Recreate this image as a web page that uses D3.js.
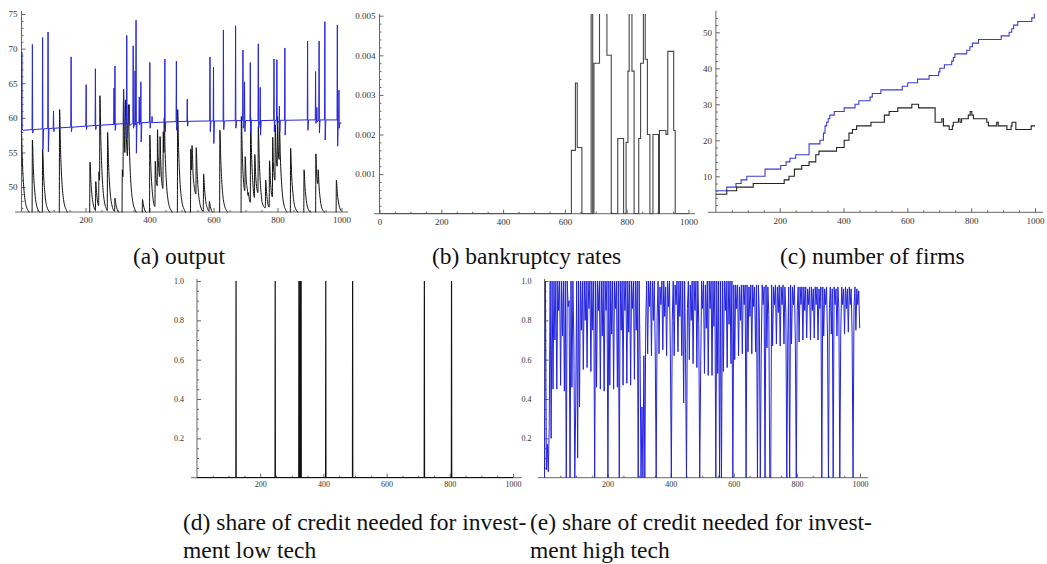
<!DOCTYPE html>
<html><head><meta charset="utf-8">
<script src="https://cdn.jsdelivr.net/npm/d3@7"></script>
<style>body{margin:0;background:#fff}</style>
</head><body>
<svg id="c" width="1047" height="564"></svg>
<script>
// ---------- DATA ----------
const xTicks = [200, 400, 600, 800, 1000];
const xTicksB = [0, 200, 400, 600, 800, 1000];
const yTicksA = [50, 55, 60, 65, 70, 75];
const yTicksB = [0.001, 0.002, 0.003, 0.004, 0.005];
const yTicksC = [10, 20, 30, 40, 50];
const yTicksDE = [0.2, 0.4, 0.6, 0.8, 1.0];

// (a) output, high tech (blue)
const outputHigh = [[0,53],[1,69.5],[2,58.4],[5,58.2],[33,58.3],[34,70.6],[35,57.8],[37,58.3],[65,58.4],[66,71.6],[67,55.5],[69,58.4],[82,58.45],[83,72.4],[84,55.1],[86,58.45],[99,58.5],[100,61],[101,58],[103,58.5],[154,58.65],[155,68.8],[156,58],[158,58.65],[201,58.8],[202,64.8],[203,58.3],[205,58.8],[230,58.9],[231,67.1],[232,58.3],[234,58.9],[288,59.05],[289,64.3],[290,59],[291,59.05],[292,67.5],[293,58.2],[295,59.1],[318,59.15],[319,64.1],[320,59.1],[328,59.2],[329,71.9],[330,57.2],[332,59.2],[336,59.2],[337,61.9],[338,58.9],[348,59.25],[349,70.4],[350,58.5],[354,59.25],[355,66.8],[356,59],[357,59.3],[358,74.1],[359,54.9],[361,59.3],[367,59.3],[368,63],[369,59],[372,59.3],[373,65.2],[374,56.5],[376,59.3],[400,59.35],[401,68],[402,58.5],[404,59.35],[407,59.35],[408,60.2],[409,59.3],[447,59.4],[448,68.5],[449,58],[451,59.4],[483,59.45],[484,68.2],[485,58.2],[487,59.45],[517,59.5],[518,62.7],[519,58.8],[521,59.5],[588,59.55],[589,68.8],[590,58],[592,59.55],[599,59.55],[600,67.3],[601,56.3],[603,59.55],[630,59.55],[631,72.7],[632,58.3],[634,59.55],[668,59.6],[669,73.3],[670,58.5],[672,59.6],[691,59.6],[692,69.8],[693,58.5],[696,59.6],[697,65.2],[698,58],[700,59.6],[714,59.6],[715,68],[716,57.8],[718,59.6],[739,59.6],[740,70.7],[741,58.5],[745,59.6],[746,64.4],[747,57.5],[749,59.6],[788,59.65],[789,68.5],[790,58],[792,59.6],[797,59.65],[798,68.4],[799,59],[805,59.65],[806,61.7],[807,58],[809,59.65],[822,59.65],[823,70.1],[824,57.5],[826,59.65],[893,59.7],[894,71.1],[895,58.2],[897,59.7],[918,59.7],[919,66.7],[920,59.2],[922,59.7],[923,61.5],[924,59.4],[929,59.7],[930,71.1],[931,57.8],[933,59.7],[947,59.7],[948,73.9],[949,56.8],[951,59.7],[986,59.7],[987,73.4],[988,55.9],[990,59.6],[991,59.6],[992,64],[993,58.5],[995,59.3],[1000,59.2]];

// (a) output, low tech (black)
const outputLow = [[0,58],[3,53.4],[7,50],[13,47.6],[22,46.5],[32,46],[33,46],[34,56.8],[37,52.7],[41,49.6],[47,47.4],[56,46.4],[65,46.1],[66,55.5],[69,51.9],[73,49.1],[79,47.2],[88,46.4],[98,46],[118,46],[119,61.2],[122,55.4],[126,51],[132,48],[141,46.6],[151,46],[213,46],[214,53.6],[217,50.7],[221,48.5],[227,47],[231,46.6],[232,50.8],[235,49],[239,47.6],[241,47.3],[242,52.2],[244,51],[245,63.2],[248,56.7],[252,51.7],[258,48.2],[267,46.7],[268,46.6],[269,57.9],[272,53.4],[276,49.9],[282,47.5],[291,46.5],[292,48.4],[295,47.5],[299,46.8],[305,46.3],[314,46.1],[315,52.5],[317,51.5],[319,64.1],[321,58],[323,55],[325,62.6],[328,57],[331,54.5],[334,61.9],[337,55.9],[341,51.2],[347,48.1],[356,46.6],[366,46],[377,46],[378,48.2],[381,47.4],[385,46.7],[391,46.3],[400,46],[401,57.5],[404,53.1],[408,49.8],[414,47.5],[417,47.2],[418,53.7],[420,51.5],[424,50.2],[425,58.3],[427,54.5],[432,51.5],[433,57.3],[435,54],[438,51],[442,49.8],[443,58],[445,55],[446,60],[449,54.7],[453,50.6],[459,47.8],[468,46.6],[478,46],[487,46],[488,61.2],[491,55.4],[495,51],[501,48],[510,46.6],[520,46],[528,46],[529,55.5],[531,52.5],[533,56],[536,52],[540,50],[545,49],[546,55.7],[549,52],[553,49.2],[559,47.3],[568,46.5],[569,51.9],[572,49.7],[576,47.9],[582,46.8],[586,46.5],[587,47.9],[590,47.2],[594,46.6],[600,46.2],[619,46],[620,58.2],[623,53.6],[627,50],[633,47.6],[642,46.5],[652,46],[686,46],[687,60.2],[690,54.8],[694,50.7],[698,49.5],[699,54.4],[702,51.2],[706,49.6],[708,48.8],[709,49.2],[711,48.5],[715,47.8],[716,60],[719,54.7],[723,50.6],[728,48.5],[729,54.7],[732,51.5],[739,49.2],[740,58.7],[743,53.9],[747,50.2],[753,47.6],[762,47],[763,51],[766,49.1],[770,47.6],[774,47.1],[775,53.8],[778,50.9],[784,48.6],[785,57.2],[787,53.5],[792,51],[793,59],[795,55.5],[799,53],[800,60.2],[802,56],[805,54],[806,59.2],[809,54.2],[813,50.4],[819,47.7],[828,46.5],[838,46],[840,46],[841,55.6],[844,51.9],[848,49.2],[854,47.2],[863,46.4],[873,46],[882,46],[883,52.5],[886,50],[890,48.1],[896,46.8],[905,46.3],[915,46],[919,46],[920,54.8],[922,52],[926,50.5],[927,52.5],[930,50],[934,48.1],[940,46.8],[949,46.3],[959,46],[983,46],[984,51],[987,49.1],[991,47.7],[997,46.7],[1000,46.5]];

// (b) bankruptcy rates (step function)
const bankT = [0, 621, 634, 640, 655, 685, 690, 694, 712, 736, 750, 771, 790, 798, 804, 808, 817, 824, 839, 845, 854, 860, 867, 875, 885, 903, 906, 927, 933, 952, 957, 1000];
const bankV = [0, 0.0016, 0.0033, 0.00167, 0, 0.008, 0, 0.0038, 0.008, 0.004, 0, 0.0019, 0, 0.0018, 0.0036, 0.008, 0.0036, 0, 0.0019, 0.0038, 0.008, 0.0039, 0.002, 0, 0.002, 0, 0.0021, 0.002, 0.0041, 0.0021, 0, 0];

// (c) number of firms (step functions)
const firmsHighT = [0,34,63,79,97,154,203,220,232,250,292,326,337,342,347,352,357,371,402,436,448,483,490,517,584,601,632,668,698,702,716,739,744,749,786,796,804,823,894,919,927,933,946,990,998,1000];
const firmsHighV = [6,7,8,9,10,12,13,14,15,16,19,20,22,24,25,26,27,28,29,30,31,32,33,34,35,36,37,38,39,40,41,42,43,44,45,46,47,48,49,50,51,52,53,54,55,55];
const firmsLowT = [0,34,65,117,214,229,246,269,292,313,323,378,402,417,428,441,486,528,543,570,614,635,687,708,713,731,741,744,760,765,770,791,797,802,807,849,854,880,885,912,925,928,940,988,1000];
const firmsLowV = [5,6,7,8,9,10,12,13,14,16,17,18,20,22,23,24,25,27,28,29,30,29,25,26,24,23,24,25,26,25,26,27,28,27,26,25,24,25,24,23,24,25,23,24,24];

// (d) share of credit needed, low tech
const creditLow = [[0,0],[123,0],[123.5,1],[124,0],[247,0],[247.5,1],[248,0],[322,0],[322.5,1],[323,0],[326,0],[326.5,1],[327,0],[329,0],[329.5,1],[330,0],[407,0],[407.5,1],[408,0],[492,0],[492.5,1],[493,0],[719,0],[719.5,1],[720,0],[805,0],[805.5,1],[806,0],[1000,0]];

// (e) share of credit needed, high tech (sampled every 3 periods)
const creditHighStep = 3;
const creditHigh = [
0,1,0.04,0.17,0.03,0.26,1,0.2,1,0.45,
1,0.7,1,0.45,1,0.85,1,0.47,1,0.72,
1,0.44,1,0,1,0.87,0.9,0,1,0.46,
1,0.7,0,0.38,1,0.1,1,0.36,1,0.75,
1,0.55,1,0.8,1,0.56,1,0.86,1,0.54,
1,0.75,1,0,1,0.46,1,0.85,1,0.45,
1,0.72,1,0.44,1,0.85,1,0,1,0.47,
1,0.73,1,0.45,1,0.86,1,0.46,1,0,
1,0.75,1,0.47,1,0.85,1,0.48,1,0.74,
1,0.47,1,0.86,1,0.5,1,0.75,1,0,
1,0.6,0,0.36,0,0.62,0,0.8,1,0.63,
1,0.87,1,0.62,1,0.8,1,0.64,0,0.82,
1,0.63,0.97,0.88,1,0.65,1,0.82,0.97,0.62,
1,0.87,1,0.63,0,0.8,1,0.62,0.98,0.88,
1,0.64,1,0.82,1,0.62,1,0.38,1,0.63,
0,0.86,1,0.6,0.98,0.8,1,0.58,1,0.85,
1,0.56,1,0.78,0,0.55,1,0.86,1,0.53,
0.98,0.76,1,0.52,1,0.86,1,0.52,1,0.77,
1,0,1,0.53,1,0,1,0,1,0.54,
1,0.85,1,0.56,1,0.78,1,0.58,1,0,
0.98,0.6,0.98,0.86,0.98,0.62,0.97,0.8,0.98,0.63,
0.98,0.88,0.98,0,0.98,0.64,0.97,0.82,0.98,0.63,
0.98,0.87,0.97,0.64,0.98,0,0.98,0.82,0,0.65,
0.98,0.88,0.97,0,0.98,0.66,0.97,0.83,0,0,
0.98,0.67,0.97,0.88,0.98,0.68,0.97,0.84,0.98,0.67,
0.97,0.88,0.98,0.68,0.97,0.84,0,0.69,0.97,0,
0.98,0.68,0.97,0.88,0.98,0.7,0,0.85,0.97,0.69,
0.97,0.88,0.97,0.7,0.97,0.85,0.97,0.71,0.96,0.88,
0.97,0.7,0.97,0.85,0.96,0.71,0.97,0.88,0.97,0.7,
0.96,0.86,0.97,0,0.97,0.72,0.96,0.88,0.97,0.71,
0,0.86,0.97,0.73,0.96,0,0.97,0.88,0.96,0.72,
0.97,0.86,0,0.74,0.97,0.88,0.96,0.73,0.97,0.86,
0.96,0.74,0.97,0.88,0.96,0.73,0,0.87,0.97,0.75,
0.96,0.88,0.95,0.76];

const captions = [
  {lines:["(a) output"], x:133, y:264},
  {lines:["(b) bankruptcy rates"], x:432, y:264},
  {lines:["(c) number of firms"], x:780, y:264},
  {lines:["(d) share of credit needed for invest-","ment low tech"], x:183, y:530},
  {lines:["(e) share of credit needed for invest-","ment high tech"], x:530, y:530}
];

// ---------- DRAW ----------
const svg = d3.select("#c");
svg.append("rect").attr("width",1047).attr("height",564).attr("fill","#fff");
const defs = svg.append("defs");
const AX = "#666", LAB = "#333", FONT = "Liberation Serif";

function panel(o){
  const x = d3.scaleLinear().domain([0,1000]).range(o.xr);
  const y = d3.scaleLinear().domain(o.yDom).range(o.yr);
  const g = svg.append("g");
  const x0 = x(0), yb = o.yr[0];
  g.append("line").attr("x1",o.axX[0]).attr("x2",o.axX[1]).attr("y1",yb).attr("y2",yb).attr("stroke",AX).attr("stroke-width",1);
  g.append("line").attr("x1",x0).attr("x2",x0).attr("y1",yb).attr("y2",o.axYTop).attr("stroke",AX).attr("stroke-width",1);
  const xm = d3.range(50, 1001, 50).filter(v=>!o.xTicks.includes(v));
  g.append("g").attr("transform",`translate(0,${yb})`)
    .call(d3.axisBottom(x).tickValues(xm).tickSize(-2).tickSizeOuter(0).tickFormat(""))
    .call(s=>{s.select(".domain").remove(); s.selectAll("line").attr("stroke",AX);});
  g.append("g").attr("transform",`translate(${x0},0)`)
    .call(d3.axisLeft(y).tickValues(o.yMinor).tickSize(-2).tickSizeOuter(0).tickFormat(""))
    .call(s=>{s.select(".domain").remove(); s.selectAll("line").attr("stroke",AX);});
  g.append("g").attr("transform",`translate(0,${yb})`)
    .call(d3.axisBottom(x).tickValues(o.xTicks).tickSize(-4).tickSizeOuter(0).tickPadding(o.xPad).tickFormat(d3.format("d")))
    .call(s=>{s.attr("font-family",FONT).attr("font-size",o.fs); s.select(".domain").remove(); s.selectAll("line").attr("stroke",AX);
      s.selectAll("text").attr("fill",LAB);});
  g.append("g").attr("transform",`translate(${x0},0)`)
    .call(d3.axisLeft(y).tickValues(o.yTicks).tickSize(-4).tickSizeOuter(0).tickPadding(o.yPad).tickFormat(o.yFmt))
    .call(s=>{s.attr("font-family",FONT).attr("font-size",o.fs); s.select(".domain").remove(); s.selectAll("line").attr("stroke",AX);
      s.selectAll("text").attr("fill",LAB);});
  const cid = "clip"+o.id;
  defs.append("clipPath").attr("id",cid).append("rect")
    .attr("x",o.axX[0]).attr("y",o.axYTop).attr("width",o.axX[1]-o.axX[0]).attr("height",yb-o.axYTop+0.5);
  const plot = svg.append("g").attr("clip-path",`url(#${cid})`);
  return {x,y,plot};
}

// (a)
const pa = panel({id:"a", xr:[21.5,341.5], yDom:[46.4,75], yr:[212,14], axX:[15,348], axYTop:11,
  xTicks, yTicks:yTicksA, yMinor:d3.range(47,76,1).filter(v=>v%5!==0), xPad:5, yPad:4, fs:9, yFmt:d3.format("d")});
pa.plot.append("path").datum(outputLow)
  .attr("d", d3.line().x(d=>pa.x(d[0])).y(d=>pa.y(d[1])).curve(d3.curveMonotoneX))
  .attr("fill","none").attr("stroke","#111").attr("stroke-width",1);
pa.plot.append("path").datum(outputHigh)
  .attr("d", d3.line().x(d=>pa.x(d[0])).y(d=>pa.y(d[1])))
  .attr("fill","none").attr("stroke","#2626d9").attr("stroke-width",1);

// (b)
const pb = panel({id:"b", xr:[379.5,688.5], yDom:[0,0.005], yr:[213.7,15.7], axX:[374,695], axYTop:14,
  xTicks:xTicksB, yTicks:yTicksB, yMinor:d3.range(1,25).filter(v=>v%5!==0).map(v=>v*0.0002), xPad:5, yPad:4, fs:9, yFmt:d3.format(".3f")});
pb.plot.append("path").datum(bankT.map((t,i)=>[t,bankV[i]]))
  .attr("d", d3.line().x(d=>pb.x(d[0])).y(d=>pb.y(d[1])).curve(d3.curveStepAfter))
  .attr("fill","none").attr("stroke","#444").attr("stroke-width",1.1);

// (c)
const pc = panel({id:"c", xr:[715.9,1035], yDom:[0,56], yr:[212.3,10.7], axX:[708,1043], axYTop:10.5,
  xTicks, yTicks:yTicksC, yMinor:d3.range(2,56,2).filter(v=>v%10!==0), xPad:5, yPad:4, fs:9, yFmt:d3.format("d")});
pc.plot.append("path").datum(firmsHighT.map((t,i)=>[t,firmsHighV[i]]))
  .attr("d", d3.line().x(d=>pc.x(d[0])).y(d=>pc.y(d[1])).curve(d3.curveStepAfter))
  .attr("fill","none").attr("stroke","#3b3bd6").attr("stroke-width",1.1);
pc.plot.append("path").datum(firmsLowT.map((t,i)=>[t,firmsLowV[i]]))
  .attr("d", d3.line().x(d=>pc.x(d[0])).y(d=>pc.y(d[1])).curve(d3.curveStepAfter))
  .attr("fill","none").attr("stroke","#222").attr("stroke-width",1.1);

// (d)
const pd = panel({id:"d", xr:[197,513], yDom:[0,1], yr:[477.7,281], axX:[191,521.7], axYTop:279,
  xTicks, yTicks:yTicksDE, yMinor:d3.range(1,21).filter(v=>v%4!==0).map(v=>v*0.05), xPad:4, yPad:13, fs:8, yFmt:d3.format(".1f")});
pd.plot.append("path").datum(creditLow)
  .attr("d", d3.line().x(d=>pd.x(d[0])).y(d=>pd.y(d[1])))
  .attr("fill","none").attr("stroke","#111").attr("stroke-width",1.2);

// (e)
const pe = panel({id:"e", xr:[544.5,860], yDom:[0,1], yr:[477.7,281], axX:[538,868], axYTop:279,
  xTicks, yTicks:yTicksDE, yMinor:d3.range(1,21).filter(v=>v%4!==0).map(v=>v*0.05), xPad:4, yPad:13, fs:8, yFmt:d3.format(".1f")});
pe.plot.append("path").datum(creditHigh)
  .attr("d", d3.line().x((d,i)=>pe.x(i*creditHighStep)).y(d=>pe.y(d)))
  .attr("fill","none").attr("stroke","#2222dd").attr("stroke-width",1);

// captions
captions.forEach(c=>{
  c.lines.forEach((ln,k)=>{
    svg.append("text").attr("x",c.x).attr("y",c.y+k*28).text(ln)
      .attr("font-family",FONT).attr("font-size",23.5).attr("fill","#111");
  });
});
</script>
</body></html>
